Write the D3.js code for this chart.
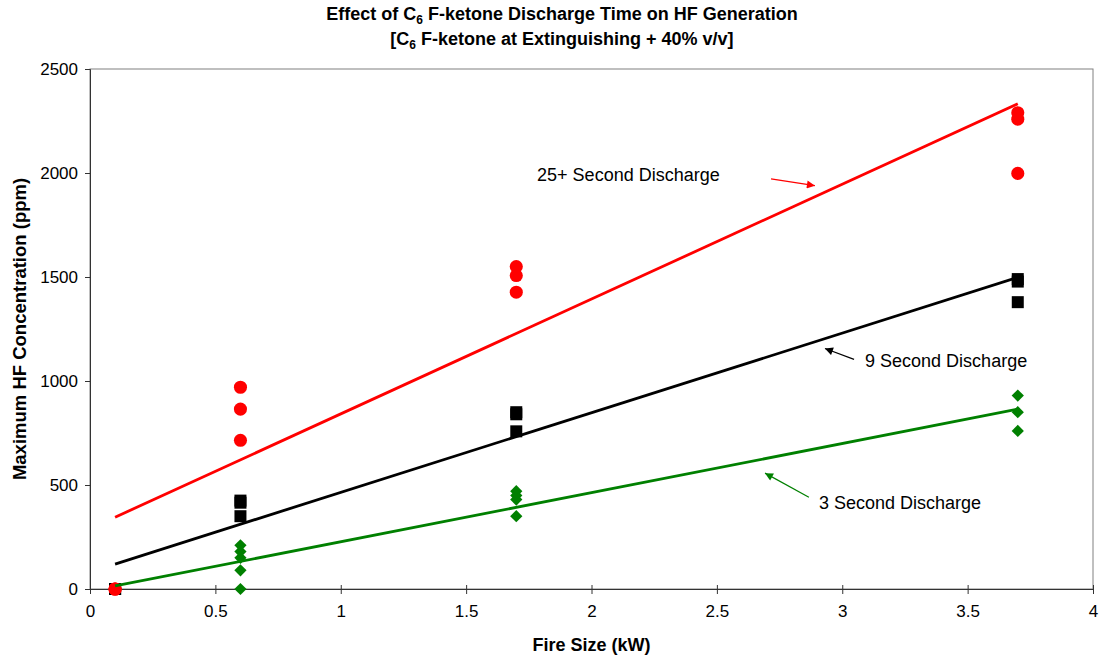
<!DOCTYPE html>
<html>
<head>
<meta charset="utf-8">
<script src="https://cdn.jsdelivr.net/npm/d3@7"></script>
<style>
  body { margin: 0; background: #fff; }
  text { font-family: Arial, "Liberation Sans", sans-serif; }
</style>
</head>
<body>
<div id="chart"></div>
<script>
// Fire size (kW) and max HF (ppm) for each discharge time
var red25X = [0.1, 0.1, 0.1, 0.6, 0.6, 0.6, 1.7, 1.7, 1.7, 3.7, 3.7, 3.7];
var red25Y = [0, 0, 0, 970, 865, 715, 1550, 1507, 1427, 2290, 2259, 1998];

var black9X = [0.1, 0.1, 0.1, 0.6, 0.6, 0.6, 1.7, 1.7, 1.7, 3.7, 3.7, 3.7];
var black9Y = [0, 0, 0, 425, 415, 350, 850, 840, 758, 1490, 1478, 1379];

var green3X = [0.1, 0.1, 0.1, 0.6, 0.6, 0.6, 0.6, 0.6, 1.7, 1.7, 1.7, 1.7, 3.7, 3.7, 3.7];
var green3Y = [0, 0, 0, 210, 180, 150, 90, 0, 470, 450, 430, 350, 930, 850, 760];

var xTicks = [0, 0.5, 1, 1.5, 2, 2.5, 3, 3.5, 4];
var yTicks = [0, 500, 1000, 1500, 2000, 2500];

// annotation labels: text, label x/y, arrow from x/y, arrow to x/y (data units)
var labelText = ["25+ Second Discharge", "9 Second Discharge", "3 Second Discharge"];
var labelX = [1.783, 3.091, 2.907];
var labelY = [1962, 1065, 387];
var arrowX1 = [2.716, 3.047, 2.867];
var arrowY1 = [1972, 1104, 441];
var arrowX2 = [2.891, 2.931, 2.692];
var arrowY2 = [1939, 1156, 557];
var labelColor = ["#ff0000", "#000000", "#008000"];

function draw() {
    var W = 1099, H = 655;
    var margin = {top: 69, right: 6, bottom: 66, left: 90},
        width = W - margin.left - margin.right,
        height = H - margin.top - margin.bottom;

    var svg = d3.select("#chart")
      .append("svg")
        .attr("width", W)
        .attr("height", H);

    var g = svg.append("g")
        .attr("transform", "translate(" + margin.left + "," + margin.top + ")");

    var x = d3.scaleLinear().domain([0, 4]).range([0, width]);
    var y = d3.scaleLinear().domain([0, 2500]).range([height, 0]);

    // arrow heads
    var defs = svg.append("defs");
    labelColor.forEach(function(c, i) {
        defs.append("marker")
            .attr("id", "arr" + i)
            .attr("viewBox", "0 0 10 10")
            .attr("refX", 10).attr("refY", 5)
            .attr("markerWidth", 11).attr("markerHeight", 8)
            .attr("markerUnits", "userSpaceOnUse")
            .attr("orient", "auto")
          .append("path")
            .attr("d", "M0,0 L10,5 L0,10 Z")
            .attr("fill", c);
    });

    // plot border
    g.append("rect")
        .attr("x", 0).attr("y", 0)
        .attr("width", width).attr("height", height)
        .attr("fill", "none")
        .attr("stroke", "#808080")
        .attr("stroke-width", 1);

    // Y axis
    var yAxis = g.append("g")
        .call(d3.axisLeft(y).tickValues(yTicks).tickSize(5).tickPadding(7).tickFormat(d3.format("d")));
    yAxis.selectAll("text").style("font-size", "17px").attr("fill", "#000");
    yAxis.selectAll("line, path").attr("stroke", "#333");

    // X axis
    var xAxis = g.append("g")
        .attr("transform", "translate(0," + height + ")")
        .call(d3.axisBottom(x).tickValues(xTicks).tickSize(5).tickPadding(11).tickFormat(function(d) { return d; }));
    xAxis.selectAll("text").style("font-size", "17px").attr("fill", "#000");
    xAxis.selectAll("line, path").attr("stroke", "#333");
    xAxis.selectAll(".tick line").attr("y1", -4);

    var series = [
        {xs: green3X, ys: green3Y, color: "#008000", shape: d3.symbolSquare, size: 75, rot: 45},
        {xs: black9X, ys: black9Y, color: "#000000", shape: d3.symbolSquare, size: 144, rot: 0},
        {xs: red25X, ys: red25Y, color: "#ff0000", shape: d3.symbolCircle, size: 135, rot: 0}
    ];

    // markers
    series.forEach(function(s) {
        var pts = s.xs.map(function(v, i) { return [v, s.ys[i]]; });
        g.selectAll(null)
            .data(pts)
            .enter()
            .append("path")
              .attr("d", d3.symbol().type(s.shape).size(s.size))
              .attr("transform", function(d) { return "translate(" + x(d[0]) + "," + y(d[1]) + ") rotate(" + s.rot + ")"; })
              .attr("fill", s.color);
    });

    // linear trend lines (least squares), drawn from min to max fire size
    series.forEach(function(s) {
        var mx = d3.mean(s.xs), my = d3.mean(s.ys);
        var sxy = d3.sum(s.xs, function(v, i) { return (v - mx) * (s.ys[i] - my); });
        var sxx = d3.sum(s.xs, function(v) { return (v - mx) * (v - mx); });
        var slope = sxy / sxx, icpt = my - slope * mx;
        var ends = d3.extent(s.xs);
        g.append("line")
            .attr("x1", x(ends[0])).attr("y1", y(icpt + slope * ends[0]))
            .attr("x2", x(ends[1])).attr("y2", y(icpt + slope * ends[1]))
            .attr("stroke", s.color)
            .attr("stroke-width", 2.8);
    });

    // annotations
    labelText.forEach(function(t, i) {
        g.append("text")
            .attr("x", x(labelX[i]))
            .attr("y", y(labelY[i]))
            .style("font-size", "18px")
            .attr("fill", "#000")
            .text(t);
        g.append("line")
            .attr("x1", x(arrowX1[i])).attr("y1", y(arrowY1[i]))
            .attr("x2", x(arrowX2[i])).attr("y2", y(arrowY2[i]))
            .attr("stroke", labelColor[i])
            .attr("stroke-width", 1.2)
            .attr("marker-end", "url(#arr" + i + ")");
    });

    // title
    var title = svg.append("text")
        .attr("text-anchor", "middle")
        .style("font-size", "18px")
        .style("font-weight", "bold");
    var t1 = title.append("tspan").attr("x", 562).attr("y", 20);
    t1.append("tspan").text("Effect of C");
    t1.append("tspan").attr("dy", 4).style("font-size", "12px").text("6");
    t1.append("tspan").attr("dy", -4).text(" F-ketone Discharge Time on HF Generation");
    var t2 = title.append("tspan").attr("x", 562).attr("y", 45);
    t2.append("tspan").text("[C");
    t2.append("tspan").attr("dy", 4).style("font-size", "12px").text("6");
    t2.append("tspan").attr("dy", -4).text(" F-ketone at Extinguishing + 40% v/v]");

    // axis titles
    svg.append("text")
        .attr("x", margin.left + width / 2)
        .attr("y", 651)
        .attr("text-anchor", "middle")
        .style("font-size", "18px")
        .style("font-weight", "bold")
        .text("Fire Size (kW)");

    svg.append("text")
        .attr("transform", "translate(26," + (margin.top + height / 2) + ") rotate(-90)")
        .attr("text-anchor", "middle")
        .style("font-size", "18.5px")
        .style("font-weight", "bold")
        .text("Maximum HF Concentration (ppm)");
}

draw();
</script>
</body>
</html>
